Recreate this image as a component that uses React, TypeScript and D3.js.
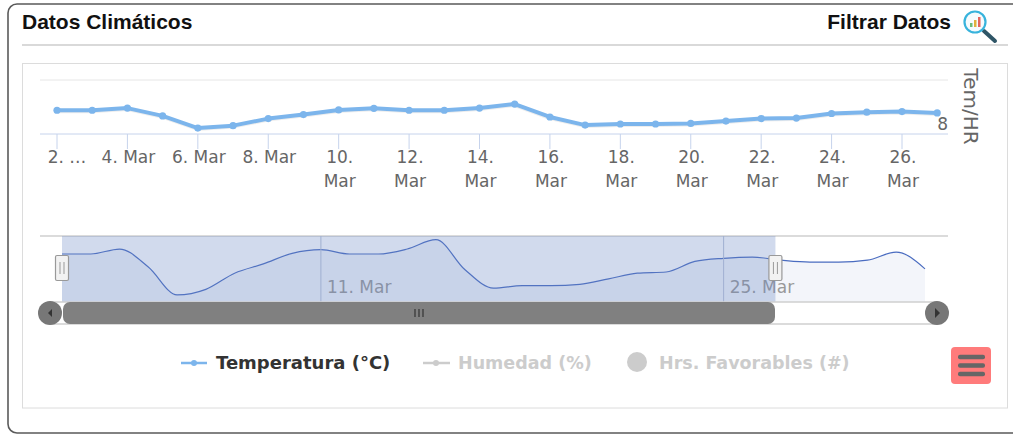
import React from 'react';
import * as d3 from 'd3';

// days of March, the main chart stops at the 27th
const days = [2, 3, 4, 5, 6, 7, 8, 9, 10, 11, 12, 13, 14, 15, 16, 17, 18, 19, 20, 21, 22, 23, 24, 25, 26, 27];
const temperatura = [16.8, 16.8, 17.6, 14.7, 10.2, 11.1, 13.7, 15.2, 16.9, 17.5, 16.8, 16.8, 17.6, 19.1, 14.3, 11.3, 11.7, 11.7, 11.9, 12.8, 13.7, 13.9, 15.6, 16.1, 16.3, 15.8];
// the navigator also shows the days after the selected range
const navDays = [2, 3, 4, 5, 6, 7, 8, 9, 10, 11, 12, 13, 14, 15, 16, 17, 18, 19, 20, 21, 22, 23, 24, 25, 26, 27, 28, 29, 30, 31, 32];
const navTemperatura = [16.8, 16.8, 17.6, 14.7, 10.2, 11.1, 13.7, 15.2, 16.9, 17.5, 16.8, 16.8, 17.6, 19.1, 14.3, 11.3, 11.7, 11.7, 11.9, 12.8, 13.7, 13.9, 15.6, 16.1, 16.3, 15.8, 15.5, 15.5, 15.8, 17.1, 14.4];

const tickDays = [2, 4, 6, 8, 10, 12, 14, 16, 18, 20, 22, 24, 26];
const tickLabels = [['2. …'], ['4. Mar'], ['6. Mar'], ['8. Mar'], ['10.', 'Mar'], ['12.', 'Mar'], ['14.', 'Mar'], ['16.', 'Mar'], ['18.', 'Mar'], ['20.', 'Mar'], ['22.', 'Mar'], ['24.', 'Mar'], ['26.', 'Mar']];
const navTickDays = [11, 25];
const navTickLabels = ['11. Mar', '25. Mar'];
const selectedRange = [2, 26.8];

const LABEL_FONT = '"DejaVu Sans", sans-serif';
const HEAD_FONT = '"Liberation Sans", Arial, sans-serif';

export default function App() {
  const x = d3.scaleLinear().domain([2, 26]).range([57, 902]);
  const y = d3.scaleLinear().domain([8, 28]).range([134, 80]);
  const navX = d3.scaleLinear().domain([2, 32]).range([62, 925]);
  const navY = d3.scaleLinear().domain([9.06, 19.7]).range([302, 236]);

  const mainPts: [number, number][] = days.map((d, i) => [x(d), y(temperatura[i])]);
  const navPts: [number, number][] = navDays.map((d, i) => [navX(d), navY(navTemperatura[i])]);

  const line = d3.line();
  const navLine = d3.line().curve(d3.curveMonotoneX);
  const navArea = d3.area().curve(d3.curveMonotoneX).y0(302);

  const selX0 = navX(selectedRange[0]);
  const selX1 = navX(selectedRange[1]);

  return (
    <div style={{ position: 'absolute', left: 0, top: 0 }}>
      <svg width={1013} height={435} style={{ display: 'block' }}>
        <rect x={0} y={0} width={1013} height={435} fill="#fff" />
        {/* card */}
        <rect x={8} y={4} width={1040} height={429} rx={9} fill="#fff" stroke="#5a5a5a" strokeWidth={1.6} />
        <text x={22} y={29} fontFamily={HEAD_FONT} fontWeight="bold" fontSize={21} fill="#111">Datos Climáticos</text>
        <text x={951} y={29} textAnchor="end" fontFamily={HEAD_FONT} fontWeight="bold" fontSize={21} fill="#111">Filtrar Datos</text>

        {/* magnifier icon */}
        <g>
          <line x1={984} y1={31} x2={995} y2={41} stroke="#2f5566" strokeWidth={4} strokeLinecap="round" />
          <circle cx={975} cy={22} r={10.5} fill="#f6fbfd" stroke="#38b3dc" strokeWidth={2.2} />
          <rect x={970} y={23} width={2.5} height={4} fill="#6dbb7a" />
          <rect x={974} y={20} width={2.5} height={7} fill="#e2b13c" />
          <rect x={978} y={17} width={2.5} height={10} fill="#e4655c" />
        </g>

        <line x1={22} x2={1008} y1={45} y2={45} stroke="#b3b3b3" />
        <rect x={22.5} y={63.5} width={985} height={344.5} fill="#fff" stroke="#dcdcdc" />

        {/* main chart */}
        <line x1={40} x2={948} y1={y(28)} y2={y(28)} stroke="#e6e6e6" />
        <line x1={40} x2={948} y1={y(8)} y2={y(8)} stroke="#c6d3ec" />
        {tickDays.map((d, i) => (
          <g key={d}>
            <line x1={x(d)} x2={x(d)} y1={134} y2={149} stroke="#c6d3ec" />
            <text
              x={i === 0 ? 67 : x(d) + 1}
              y={163}
              textAnchor="middle"
              fontFamily={LABEL_FONT}
              fontSize={17}
              fill="#666"
            >
              {tickLabels[i].map((t, j) => (
                <tspan key={t} x={i === 0 ? 67 : x(d) + 1} dy={j === 0 ? 0 : 24}>{t}</tspan>
              ))}
            </text>
          </g>
        ))}
        <path d={line(mainPts.map(([a, b]) => [a, b + 1])) || ''} fill="none" stroke="#000" strokeOpacity={0.07} strokeWidth={4} />
        <path d={line(mainPts) || ''} fill="none" stroke="#7cb5ec" strokeWidth={4} strokeLinejoin="round" />
        {mainPts.map(([a, b], i) => (
          <circle key={i} cx={a} cy={b} r={3.6} fill="#7cb5ec" />
        ))}
        <text x={948} y={130} textAnchor="end" fontFamily={LABEL_FONT} fontSize={17} fill="#666">8</text>
        <text
          transform="translate(964,106.5) rotate(90)"
          textAnchor="middle"
          fontFamily={LABEL_FONT}
          fontSize={20}
          fill="#666"
        >
          Tem/HR
        </text>

        {/* navigator */}
        <line x1={40} x2={948} y1={236} y2={236} stroke="#cfcfcf" strokeWidth={1.5} />
        <path d={navArea(navPts) || ''} fill="#6685c2" fillOpacity={0.08} />
        <path d={navLine(navPts) || ''} fill="none" stroke="#4a6cc0" strokeWidth={1.2} />
        {navTickDays.map((d, i) => (
          <g key={d}>
            <line x1={navX(d)} x2={navX(d)} y1={236} y2={302} stroke="#b9c2d6" />
            <text x={navX(d) + 6} y={293} fontFamily={LABEL_FONT} fontSize={17} fill="#999">{navTickLabels[i]}</text>
          </g>
        ))}
        <rect x={selX0} y={236} width={selX1 - selX0} height={66} fill="#6685c2" fillOpacity={0.3} />

        {/* scrollbar */}
        <line x1={50} x2={937} y1={302} y2={302} stroke="#cfcfcf" strokeWidth={1.5} />
        <line x1={50} x2={937} y1={324} y2={324} stroke="#cfcfcf" strokeWidth={1.5} />
        <rect x={63} y={302} width={712} height={22} rx={7} fill="#808080" />
        {[415, 419, 423].map(gx => (
          <line key={gx} x1={gx} x2={gx} y1={309} y2={317} stroke="#333" strokeWidth={1.2} />
        ))}
        <circle cx={50} cy={313} r={12} fill="#777" />
        <path d={d3.line()([[52, 309], [52, 317], [48, 313]]) + 'Z'} fill="#333" />
        <circle cx={937} cy={313} r={12} fill="#777" />
        <path d={d3.line()([[935, 308], [935, 318], [940, 313]]) + 'Z'} fill="#333" />

        {/* handles */}
        {[selX0, selX1].map(hx => (
          <g key={hx}>
            <rect x={hx - 6.5} y={255.5} width={13} height={25} rx={1.5} fill="#f2f2f2" stroke="#999" strokeWidth={1.2} />
            <line x1={hx - 2} x2={hx - 2} y1={262} y2={274} stroke="#999" />
            <line x1={hx + 2} x2={hx + 2} y1={262} y2={274} stroke="#999" />
          </g>
        ))}

        {/* legend */}
        <line x1={181} x2={207} y1={363} y2={363} stroke="#7cb5ec" strokeWidth={2.5} />
        <circle cx={194} cy={363} r={3} fill="#7cb5ec" />
        <text x={216} y={369} fontFamily={LABEL_FONT} fontWeight="bold" fontSize={18} fill="#333">Temperatura (°C)</text>
        <line x1={423} x2={450} y1={363} y2={363} stroke="#ccc" strokeWidth={2.5} />
        <circle cx={436} cy={363} r={3} fill="#ccc" />
        <text x={458} y={369} fontFamily={LABEL_FONT} fontWeight="bold" fontSize={17.5} fill="#ccc">Humedad (%)</text>
        <circle cx={637} cy={362} r={10} fill="#ccc" />
        <text x={659} y={369} fontFamily={LABEL_FONT} fontWeight="bold" fontSize={17.5} fill="#ccc">Hrs. Favorables (#)</text>

        {/* export button */}
        <rect x={951} y={347} width={40} height={37} rx={4} fill="#ff7b7b" />
        {[357, 365.5, 374].map(by => (
          <rect key={by} x={958} y={by - 2.2} width={27} height={4.4} rx={2} fill="#666" />
        ))}
      </svg>
    </div>
  );
}
